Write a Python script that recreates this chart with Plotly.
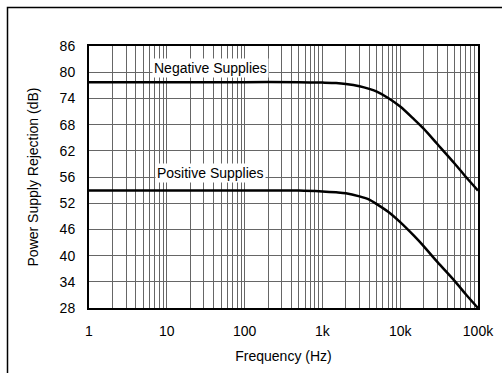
import plotly.graph_objects as go

# ---- data ----
freq = [1, 10, 100, 500, 1000, 1500, 2000, 3000, 4000, 5000, 7000, 10000, 15000, 20000, 30000, 50000, 70000, 100000]
neg_supplies = [78, 78, 78, 78, 77.9, 77.8, 77.6, 77.1, 76.5, 75.9, 74.5, 72.6, 69.8, 67.7, 64.3, 60.0, 57.0, 54.0]
pos_supplies = [54, 54, 54, 54, 53.8, 53.6, 53.4, 52.7, 52.0, 51.0, 49.3, 47.0, 44.0, 41.7, 38.2, 34.0, 31.0, 28.0]

y_tick_labels = ["28", "34", "40", "46", "52", "56", "62", "68", "74", "80", "86"]
x_decades = [1, 10, 100, 1000, 10000, 100000]
x_decade_labels = ["1", "10", "100", "1k", "10k", "100k"]

Y_MIN, Y_MAX = 28, 86

n = len(y_tick_labels)
y_tickvals = [Y_MIN + (Y_MAX - Y_MIN) * i / (n - 1) for i in range(n)]

x_tickvals, x_ticktext = [], []
for d, lab in zip(x_decades, x_decade_labels):
    if d == x_decades[-1]:
        x_tickvals.append(d); x_ticktext.append(lab)
        break
    for m in range(1, 10):
        x_tickvals.append(d * m)
        x_ticktext.append(lab if m == 1 else "")

FONT = "Liberation Sans, Arial, Helvetica, sans-serif"
FS = 14

fig = go.Figure()
fig.add_trace(go.Scatter(x=freq, y=neg_supplies, mode="lines",
                         line=dict(color="black", width=2.5, shape="spline", smoothing=0.8),
                         showlegend=False, hoverinfo="skip"))
fig.add_trace(go.Scatter(x=freq, y=pos_supplies, mode="lines",
                         line=dict(color="black", width=2.5, shape="spline", smoothing=0.8),
                         showlegend=False, hoverinfo="skip"))

L, R, T, B = 89, 24, 46, 65
W, H = 502, 373
pw, ph = W - L - R, H - T - B

fx0 = (7.5 - L) / pw
fx1 = (530 - L) / pw
fy0 = (H - B - 400) / ph
fy1 = (H - B - 7.5) / ph

fig.update_layout(
    width=W, height=H,
    margin=dict(l=L, r=R, t=T, b=B, autoexpand=False),
    paper_bgcolor="white", plot_bgcolor="white",
    font=dict(family=FONT, size=FS, color="black"),
    xaxis=dict(
        type="log", range=[0, 5], automargin=False,
        tickmode="array", tickvals=x_tickvals, ticktext=x_ticktext,
        showgrid=True, gridcolor="#666", gridwidth=1,
        showline=True, linecolor="black", linewidth=2, mirror=True,
        ticks="", ticklabelstandoff=9, zeroline=False,
        title=dict(text="Frequency (Hz)", standoff=13, font=dict(size=FS)),
    ),
    yaxis=dict(
        range=[Y_MIN, Y_MAX], automargin=False,
        tickmode="array", tickvals=y_tickvals, ticktext=y_tick_labels,
        showgrid=True, gridcolor="#666", gridwidth=1,
        showline=True, linecolor="black", linewidth=2, mirror=True,
        ticks="", ticklabelstandoff=9, zeroline=False,
        title=dict(text="Power Supply Rejection (dB)", standoff=18, font=dict(size=FS)),
    ),
    annotations=[
        dict(x=0.81, y=81.1, xref="x", yref="y", text="Negative Supplies", showarrow=False,
             xanchor="left", yanchor="middle", bgcolor="white", borderpad=1, font=dict(size=FS)),
        dict(x=0.85, y=57.9, xref="x", yref="y", text="Positive Supplies", showarrow=False,
             xanchor="left", yanchor="middle", bgcolor="white", borderpad=1, font=dict(size=FS)),
    ],
    shapes=[
        dict(type="path", xref="paper", yref="paper",
             path=f"M {fx0},{fy0} L {fx0},{fy1} L {fx1},{fy1}",
             line=dict(color="black", width=1.5), layer="below"),
    ],
)

fig.write_html(
    "out.html", config={"displayModeBar": False},
    post_script=(
        "document.documentElement.style.margin='0';"
        "document.documentElement.style.overflow='hidden';"
        "document.body.style.margin='0';document.body.style.overflow='hidden';"
        "var g=document.getElementById('{plot_id}');if(g){g.style.display='block';"
        "if(g.parentElement){g.parentElement.style.display='block';}}"
    ),
)
